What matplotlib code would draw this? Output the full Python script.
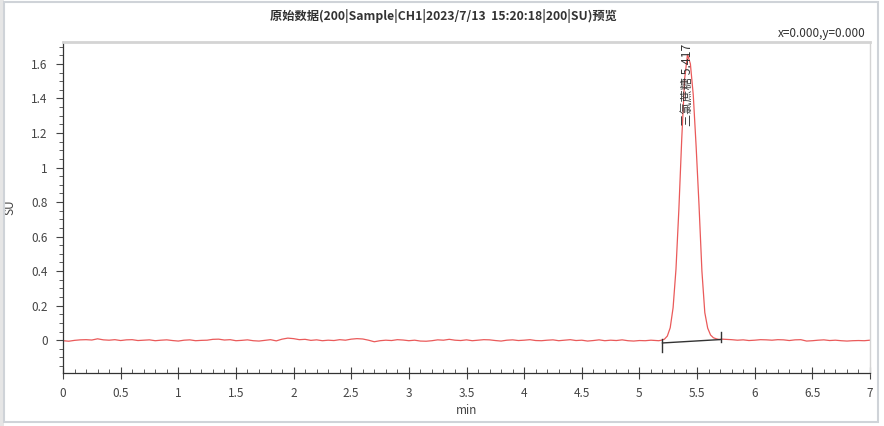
import numpy as np
import matplotlib
matplotlib.use("Agg")
import matplotlib.pyplot as plt
from matplotlib.patches import Rectangle
from matplotlib.ticker import MultipleLocator, FixedLocator

plt.rcParams['font.family'] = ['Noto Sans CJK SC', 'DejaVu Sans']

# ---- data ----
# baseline before the peak, sampled every 0.05 min starting at 0 (SU)
pre_baseline = [-0.003, -0.006, -0.001, 0.002, 0.003, 0.001, 0.008, 0.002, 0.000, 0.003,
                -0.002, 0.002, 0.003, -0.002, 0.000, 0.002, -0.003, 0.000, 0.002, -0.002,
                -0.005, 0.000, 0.002, -0.003, -0.001, 0.000, 0.005, 0.006, 0.001, 0.003,
                -0.003, -0.001, 0.002, -0.003, -0.005, -0.001, 0.003, -0.004, 0.006, 0.012,
                0.009, 0.003, 0.005, -0.001, 0.002, -0.003, 0.000, -0.002, 0.003, 0.000,
                0.006, 0.009, 0.007, 0.000, -0.009, -0.003, 0.000, -0.002, 0.003, 0.001,
                -0.003, 0.000, -0.005, -0.006, -0.003, 0.002, 0.000, 0.005, 0.000, -0.002,
                0.002, -0.003, 0.000, 0.003, 0.002, -0.002, -0.005, 0.000, 0.002, -0.002,
                0.000, 0.003, -0.002, -0.003, 0.000, 0.002, -0.003, 0.000, 0.003, -0.002,
                0.000, -0.005, -0.002, 0.002, -0.003, 0.000, -0.002, 0.002, -0.003, -0.005,
                -0.002, -0.003, 0.000, -0.002]
pre_step = 0.05

# the peak region (min, SU)
peak_times = [5.167, 5.192, 5.217, 5.242, 5.267, 5.292, 5.317, 5.342, 5.367, 5.392,
              5.417, 5.442, 5.467, 5.492, 5.517, 5.542, 5.567, 5.592, 5.617, 5.642,
              5.667, 5.692, 5.717]
peak_values = [-0.003, 0.000, 0.006, 0.024, 0.072, 0.188, 0.411, 0.756, 1.166, 1.513,
               1.655, 1.600, 1.420, 1.120, 0.780, 0.400, 0.160, 0.070, 0.030, 0.014,
               0.008, 0.004, 0.006]

# baseline after the peak, sampled every 0.05 min starting at 5.75 (SU)
post_start = 5.75
post_baseline = [0.005, 0.003, 0.000, 0.002, -0.002, 0.000, 0.003, 0.002, 0.000, 0.003,
                 0.002, -0.002, 0.002, 0.003, -0.005, -0.003, 0.000, 0.002, -0.002, 0.000,
                 -0.003, -0.005, -0.003, -0.002, -0.003, 0.000]

peak_name = "三氯蔗糖"
peak_rt = 5.417
# integration baseline (start, end) and drop markers
base_start = (5.20, -0.016)
base_end = (5.71, 0.004)

title = "原始数据(200|Sample|CH1|2023/7/13  15:20:18|200|SU)预览"
coord_text = "x=0.000,y=0.000"
x_ticks = [0, 0.5, 1, 1.5, 2, 2.5, 3, 3.5, 4, 4.5, 5, 5.5, 6, 6.5, 7]
x_tick_labels = ["0", "0.5", "1", "1.5", "2", "2.5", "3", "3.5", "4", "4.5",
                 "5", "5.5", "6", "6.5", "7"]
y_ticks = [0, 0.2, 0.4, 0.6, 0.8, 1.0, 1.2, 1.4, 1.6]
y_tick_labels = ["0", "0.2", "0.4", "0.6", "0.8", "1", "1.2", "1.4", "1.6"]

# ---- assemble series ----
pre_t = np.arange(len(pre_baseline)) * pre_step
post_t = post_start + np.arange(len(post_baseline)) * 0.05
t = np.concatenate([pre_t, np.array(peak_times), post_t])
y = np.concatenate([np.array(pre_baseline), np.array(peak_values), np.array(post_baseline)])

W, H = 884, 426
fig = plt.figure(figsize=(W / 100, H / 100), dpi=100)
fig.patch.set_facecolor('white')

# window frame
fig.patches.append(Rectangle((0, 0), 4 / W, 1, transform=fig.transFigure,
                             facecolor='#e6e6e6', edgecolor='none', zorder=0))
fig.patches.append(Rectangle((4 / W, 4 / H), (878 - 4) / W, (424 - 4) / H,
                             transform=fig.transFigure, facecolor='none',
                             edgecolor='#cfd3d8', linewidth=1.5, zorder=0))

left, right, top, bottom = 63, 870, 42, 373
ax = fig.add_axes([left / W, 1 - bottom / H, (right - left) / W, (bottom - top) / H])

ax.plot(t, y, color='#ea5a5a', linewidth=0.9)

# integration baseline and drop markers
ax.plot([base_start[0], base_end[0]], [base_start[1], base_end[1]],
        color='#333333', linewidth=1.0)
ax.plot([base_start[0], base_start[0]], [0.006, -0.068], color='#333333', linewidth=1.0)
ax.plot([base_end[0], base_end[0]], [-0.008, 0.05], color='#333333', linewidth=1.0)

# peak label
ax.text(peak_rt, 1.24, f"{peak_name} {peak_rt:.3f}", rotation=90,
        ha='center', va='bottom', fontsize=8.8, color='#333333')

ax.set_xlim(0, 7)
ax.set_ylim(-0.19, 1.727)

ax.xaxis.set_major_locator(FixedLocator(x_ticks))
ax.set_xticklabels(x_tick_labels)
ax.xaxis.set_minor_locator(MultipleLocator(0.1))
ax.yaxis.set_major_locator(FixedLocator(y_ticks))
ax.set_yticklabels(y_tick_labels)
ax.yaxis.set_minor_locator(MultipleLocator(0.05))

ax.tick_params(axis='both', which='major', labelsize=8.5, colors='#444444',
               labelcolor='#444444', length=5, width=0.8)
ax.tick_params(axis='x', which='major', direction='inout', length=8, pad=6)
ax.tick_params(axis='y', which='major', direction='out', length=5, pad=6)
ax.tick_params(axis='x', which='minor', direction='in', length=3, width=0.6, colors='#444444')
ax.tick_params(axis='y', which='minor', direction='out', length=3, width=0.6, colors='#444444')

for s in ['left', 'bottom']:
    ax.spines[s].set_color('#333333')
    ax.spines[s].set_linewidth(0.9)
ax.spines['top'].set_color('#d4d4d4')
ax.spines['top'].set_linewidth(2)
ax.spines['right'].set_color('#d4d4d4')
ax.spines['right'].set_linewidth(1)

ax.set_xlabel("min", fontsize=8.5, color='#444444', labelpad=3)
ax.set_ylabel("SU", fontsize=8.5, color='#444444')
ax.yaxis.set_label_coords((16 - left) / (right - left), 0.5)

fig.text(443 / W, 1 - 16 / H, title, ha='center', va='center', fontsize=8.8,
         fontweight='bold', color='#333333')
fig.text(866 / W, 1 - 33 / H, coord_text, ha='right', va='center', fontsize=8.5,
         color='#333333')

fig.savefig("out.png", dpi=100)
